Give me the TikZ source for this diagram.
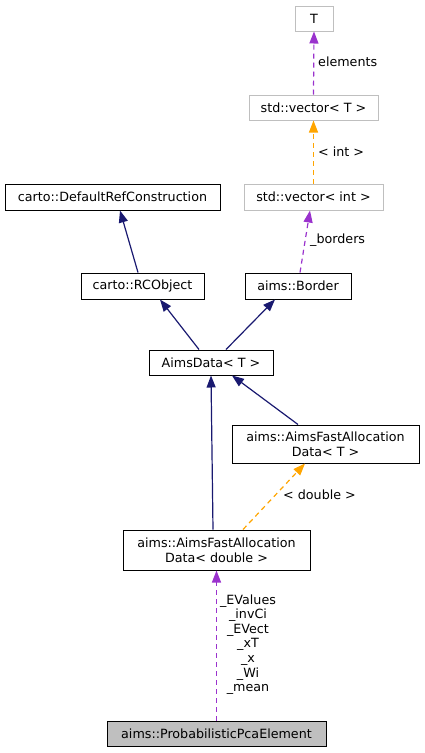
\documentclass[tikz,border=0pt]{standalone}
\usepackage{fontspec}
\setmainfont{DejaVu Sans}
\usetikzlibrary{arrows.meta}
\definecolor{navy}{HTML}{191970}
\definecolor{dpurple}{HTML}{9A32CD}
\definecolor{dorange}{HTML}{FFA500}
\definecolor{lgray}{HTML}{BFBFBF}
\definecolor{fgray}{HTML}{BFBFBF}
\begin{document}
\begin{tikzpicture}[x=1pt,y=-1pt,
  box/.style={draw=black, line width=1pt, inner sep=0pt, align=center,
    font=\fontsize{12.7}{15}\selectfont, fill=white},
  gbox/.style={box, draw=lgray},
  inh/.style={draw=navy, line width=1.2pt, -{Triangle[length=12pt,width=9pt]}},
  usage/.style={draw=dpurple, line width=1.2pt, dash pattern=on 5pt off 4pt, -{Triangle[length=12pt,width=9pt]}},
  tmpl/.style={draw=dorange, line width=1.2pt, dash pattern=on 5pt off 4pt, -{Triangle[length=12pt,width=9pt]}},
  lbl/.style={font=\fontsize{12.7}{14.6}\selectfont, inner sep=0pt, align=center}]
\useasboundingbox (0,0) rectangle (425,753);
\node[gbox, minimum width=38, minimum height=25] (T) at (314,18.5) {T};
\node[gbox, minimum width=129, minimum height=25] (vecT) at (313.5,107.5) {std::vector< T >};
\node[gbox, minimum width=139, minimum height=26] (vecint) at (313.5,197) {std::vector< int >};
\node[box, minimum width=215, minimum height=26] (DRC) at (112.5,197) {carto::DefaultRefConstruction};
\node[box, minimum width=123, minimum height=26] (RCO) at (142.5,286) {carto::RCObject};
\node[box, minimum width=106, minimum height=26] (Border) at (298,286) {aims::Border};
\node[box, minimum width=124, minimum height=25] (AD) at (211,362.5) {AimsData< T >};
\node[box, minimum width=187, minimum height=38] (AFADT) at (325.5,444) {aims::AimsFastAllocation\\Data< T >};
\node[box, minimum width=187, minimum height=40] (AFADd) at (216.5,550) {aims::AimsFastAllocation\\Data< double >};
\node[box, fill=fgray, minimum width=219, minimum height=25] (PPE) at (216.5,733.5) {aims::ProbabilisticPcaElement};

\draw[usage] (vecT.north) -- (T.south);
\node[lbl, anchor=west] (l1) at (318,62) {elements};
\draw[tmpl] (vecint.north) -- (vecT.south);
\node[lbl, anchor=west] (l2) at (318,152) {< int >};
\draw[usage] ([xshift=2]Border.north) -- ([xshift=-3.5]vecint.south);
\node[lbl, anchor=west] (l3) at (310,240) {\_borders};
\draw[inh] ([xshift=-4.5]RCO.north) -- ([xshift=7.5]DRC.south);
\draw[inh] ([xshift=-12]AD.north) -- ([xshift=17.5]RCO.south);
\draw[inh] ([xshift=15]AD.north) -- ([xshift=-23]Border.south);
\draw[inh] ([xshift=-27.5]AFADT.north) -- ([xshift=21]AD.south);
\draw[inh] ([xshift=-3.5]AFADd.north) -- (AD.south);
\draw[tmpl] ([xshift=26.5]AFADd.north) -- ([xshift=-20.5]AFADT.south);
\node[lbl, anchor=west] (l4) at (283,495) {< double >};
\draw[usage] (PPE.north) -- (AFADd.south);
\node[lbl] (l5) at (248,644.5) {\_EValues\\\_invCi\\\_EVect\\\_xT\\\_x\\\_Wi\\\_mean};
\end{tikzpicture}
\end{document}
